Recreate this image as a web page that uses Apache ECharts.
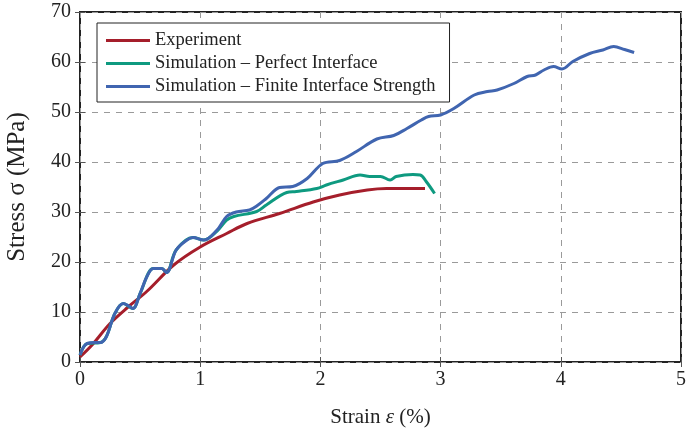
<!DOCTYPE html>
<html>
<head>
<meta charset="utf-8">
<script src="https://cdn.jsdelivr.net/npm/echarts@6/dist/echarts.min.js"></script>
<style>
  html, body { margin: 0; padding: 0; background: #fff; }
  #chart { width: 686px; height: 429px; }
</style>
</head>
<body>
<div id="chart"></div>
<script>
// strain (%) , stress (MPa) pairs
const experiment = [
    [0, 1.0], [0.1, 3.4], [0.25, 7.7], [0.4, 11.0], [0.555, 14.1], [0.78, 19.4],
    [1.0, 23.0], [1.22, 25.7], [1.39, 27.7], [1.66, 29.7], [1.94, 32.0],
    [2.16, 33.4], [2.39, 34.4], [2.55, 34.7], [2.87, 34.7]
];
const perfectInterface = [
    [0, 1.4], [0.06, 3.7], [0.17, 3.9], [0.22, 5.1], [0.29, 9.7], [0.36, 11.7],
    [0.44, 10.7], [0.5, 13.7], [0.61, 18.7], [0.68, 18.7], [0.72, 17.9],
    [0.8, 22.4], [0.94, 24.9], [1.03, 24.4], [1.14, 26.2], [1.22, 28.4],
    [1.28, 29.1], [1.47, 30.1], [1.55, 31.4], [1.72, 33.9], [1.8, 34.1],
    [1.97, 34.7], [2.05, 35.4], [2.19, 36.4], [2.33, 37.4], [2.41, 37.1],
    [2.5, 37.1], [2.58, 36.4], [2.63, 37.1], [2.77, 37.5], [2.83, 37.4],
    [2.88, 36.1], [2.95, 33.7]
];
const finiteStrength = [
    [0, 1.4], [0.03, 3.0], [0.06, 3.7], [0.12, 3.9], [0.17, 3.9], [0.22, 5.1],
    [0.29, 9.7], [0.36, 11.7], [0.4, 11.3], [0.44, 10.7], [0.5, 13.7],
    [0.555, 17.0], [0.61, 18.7], [0.68, 18.7], [0.72, 17.9], [0.8, 22.4],
    [0.89, 24.4], [0.94, 24.9], [1.03, 24.4], [1.14, 26.4], [1.22, 29.1],
    [1.3, 30.0], [1.41, 30.4], [1.47, 31.2], [1.55, 32.7], [1.66, 34.9],
    [1.77, 35.1], [1.89, 36.7], [2.02, 39.7], [2.16, 40.3], [2.3, 42.1],
    [2.47, 44.6], [2.61, 45.3], [2.72, 46.7], [2.84, 48.4], [2.9, 49.1],
    [3.0, 49.4], [3.11, 50.7], [3.28, 53.4], [3.39, 54.1], [3.47, 54.4],
    [3.61, 55.7], [3.72, 57.1], [3.79, 57.4], [3.86, 58.4], [3.94, 59.1],
    [4.01, 58.6], [4.1, 60.1], [4.24, 61.7], [4.35, 62.4], [4.44, 63.1],
    [4.53, 62.5], [4.61, 61.9]
];
const seriesNames = [
    "Experiment",
    "Simulation \u2013 Perfect Interface",
    "Simulation \u2013 Finite Interface Strength"
];
const seriesColors = ["#a51e2b", "#0e9a80", "#4065b0"];

const font = "Liberation Serif";
const chart = echarts.init(document.getElementById("chart"), null, { renderer: "canvas" });

const gridLine = { show: true, lineStyle: { color: "#9a9a9a", type: [6, 6], width: 1 } };
const innerTick = { show: true, inside: true, length: 5, lineStyle: { color: "#555", width: 1 } };

function makeSeries(i, data) {
    return {
        name: seriesNames[i],
        type: "line",
        data: data,
        showSymbol: false,
        symbol: "none",
        smooth: 0.35,
        lineStyle: { color: seriesColors[i], width: 3 },
        itemStyle: { color: seriesColors[i] },
        z: 3 + i
    };
}

const option = {
    animation: false,
    grid: {
        left: 80, right: 5, top: 12, bottom: 67,
        outerBoundsMode: "none",
        containLabel: false,
        show: true, borderColor: "#222", borderWidth: 2, backgroundColor: "transparent"
    },
    legend: {
        orient: "vertical",
        left: 97, top: 23,
        padding: [8, 14, 6, 9],
        itemWidth: 44, itemHeight: 3,
        itemGap: 4,
        icon: "rect",
        backgroundColor: "#fff",
        borderColor: "#222", borderWidth: 1,
        borderRadius: 0,
        textStyle: { fontFamily: font, fontSize: 18.5, color: "#222", lineHeight: 18 },
        data: seriesNames
    },
    xAxis: [{
        type: "value", min: 0, max: 5, interval: 1,
        name: "Strain {i|\u03b5} (%)",
        nameLocation: "middle", nameGap: 45,
        nameTextStyle: {
            fontFamily: font, fontSize: 21, color: "#222",
            rich: { i: { fontFamily: font, fontSize: 21, fontStyle: "italic", color: "#222" } }
        },
        axisLine: { show: false },
        axisTick: innerTick,
        axisLabel: { fontFamily: font, fontSize: 20, color: "#222", margin: 8 },
        splitLine: gridLine
    }, {
        type: "value", min: 0, max: 5, interval: 1, position: "top",
        axisLine: { show: false }, axisTick: innerTick,
        axisLabel: { show: false }, splitLine: { show: false }
    }],
    yAxis: [{
        type: "value", min: 0, max: 70, interval: 10,
        name: "Stress \u03c3 (MPa)",
        nameLocation: "middle", nameGap: 50,
        nameTextStyle: { fontFamily: font, fontSize: 25, color: "#222" },
        axisLine: { show: false },
        axisTick: innerTick,
        axisLabel: { fontFamily: font, fontSize: 20, color: "#222", margin: 9 },
        splitLine: gridLine
    }, {
        type: "value", min: 0, max: 70, interval: 10, position: "right",
        axisLine: { show: false }, axisTick: innerTick,
        axisLabel: { show: false }, splitLine: { show: false }
    }],
    series: [
        makeSeries(0, experiment),
        makeSeries(1, perfectInterface),
        makeSeries(2, finiteStrength)
    ]
};

chart.setOption(option);
</script>
</body>
</html>
